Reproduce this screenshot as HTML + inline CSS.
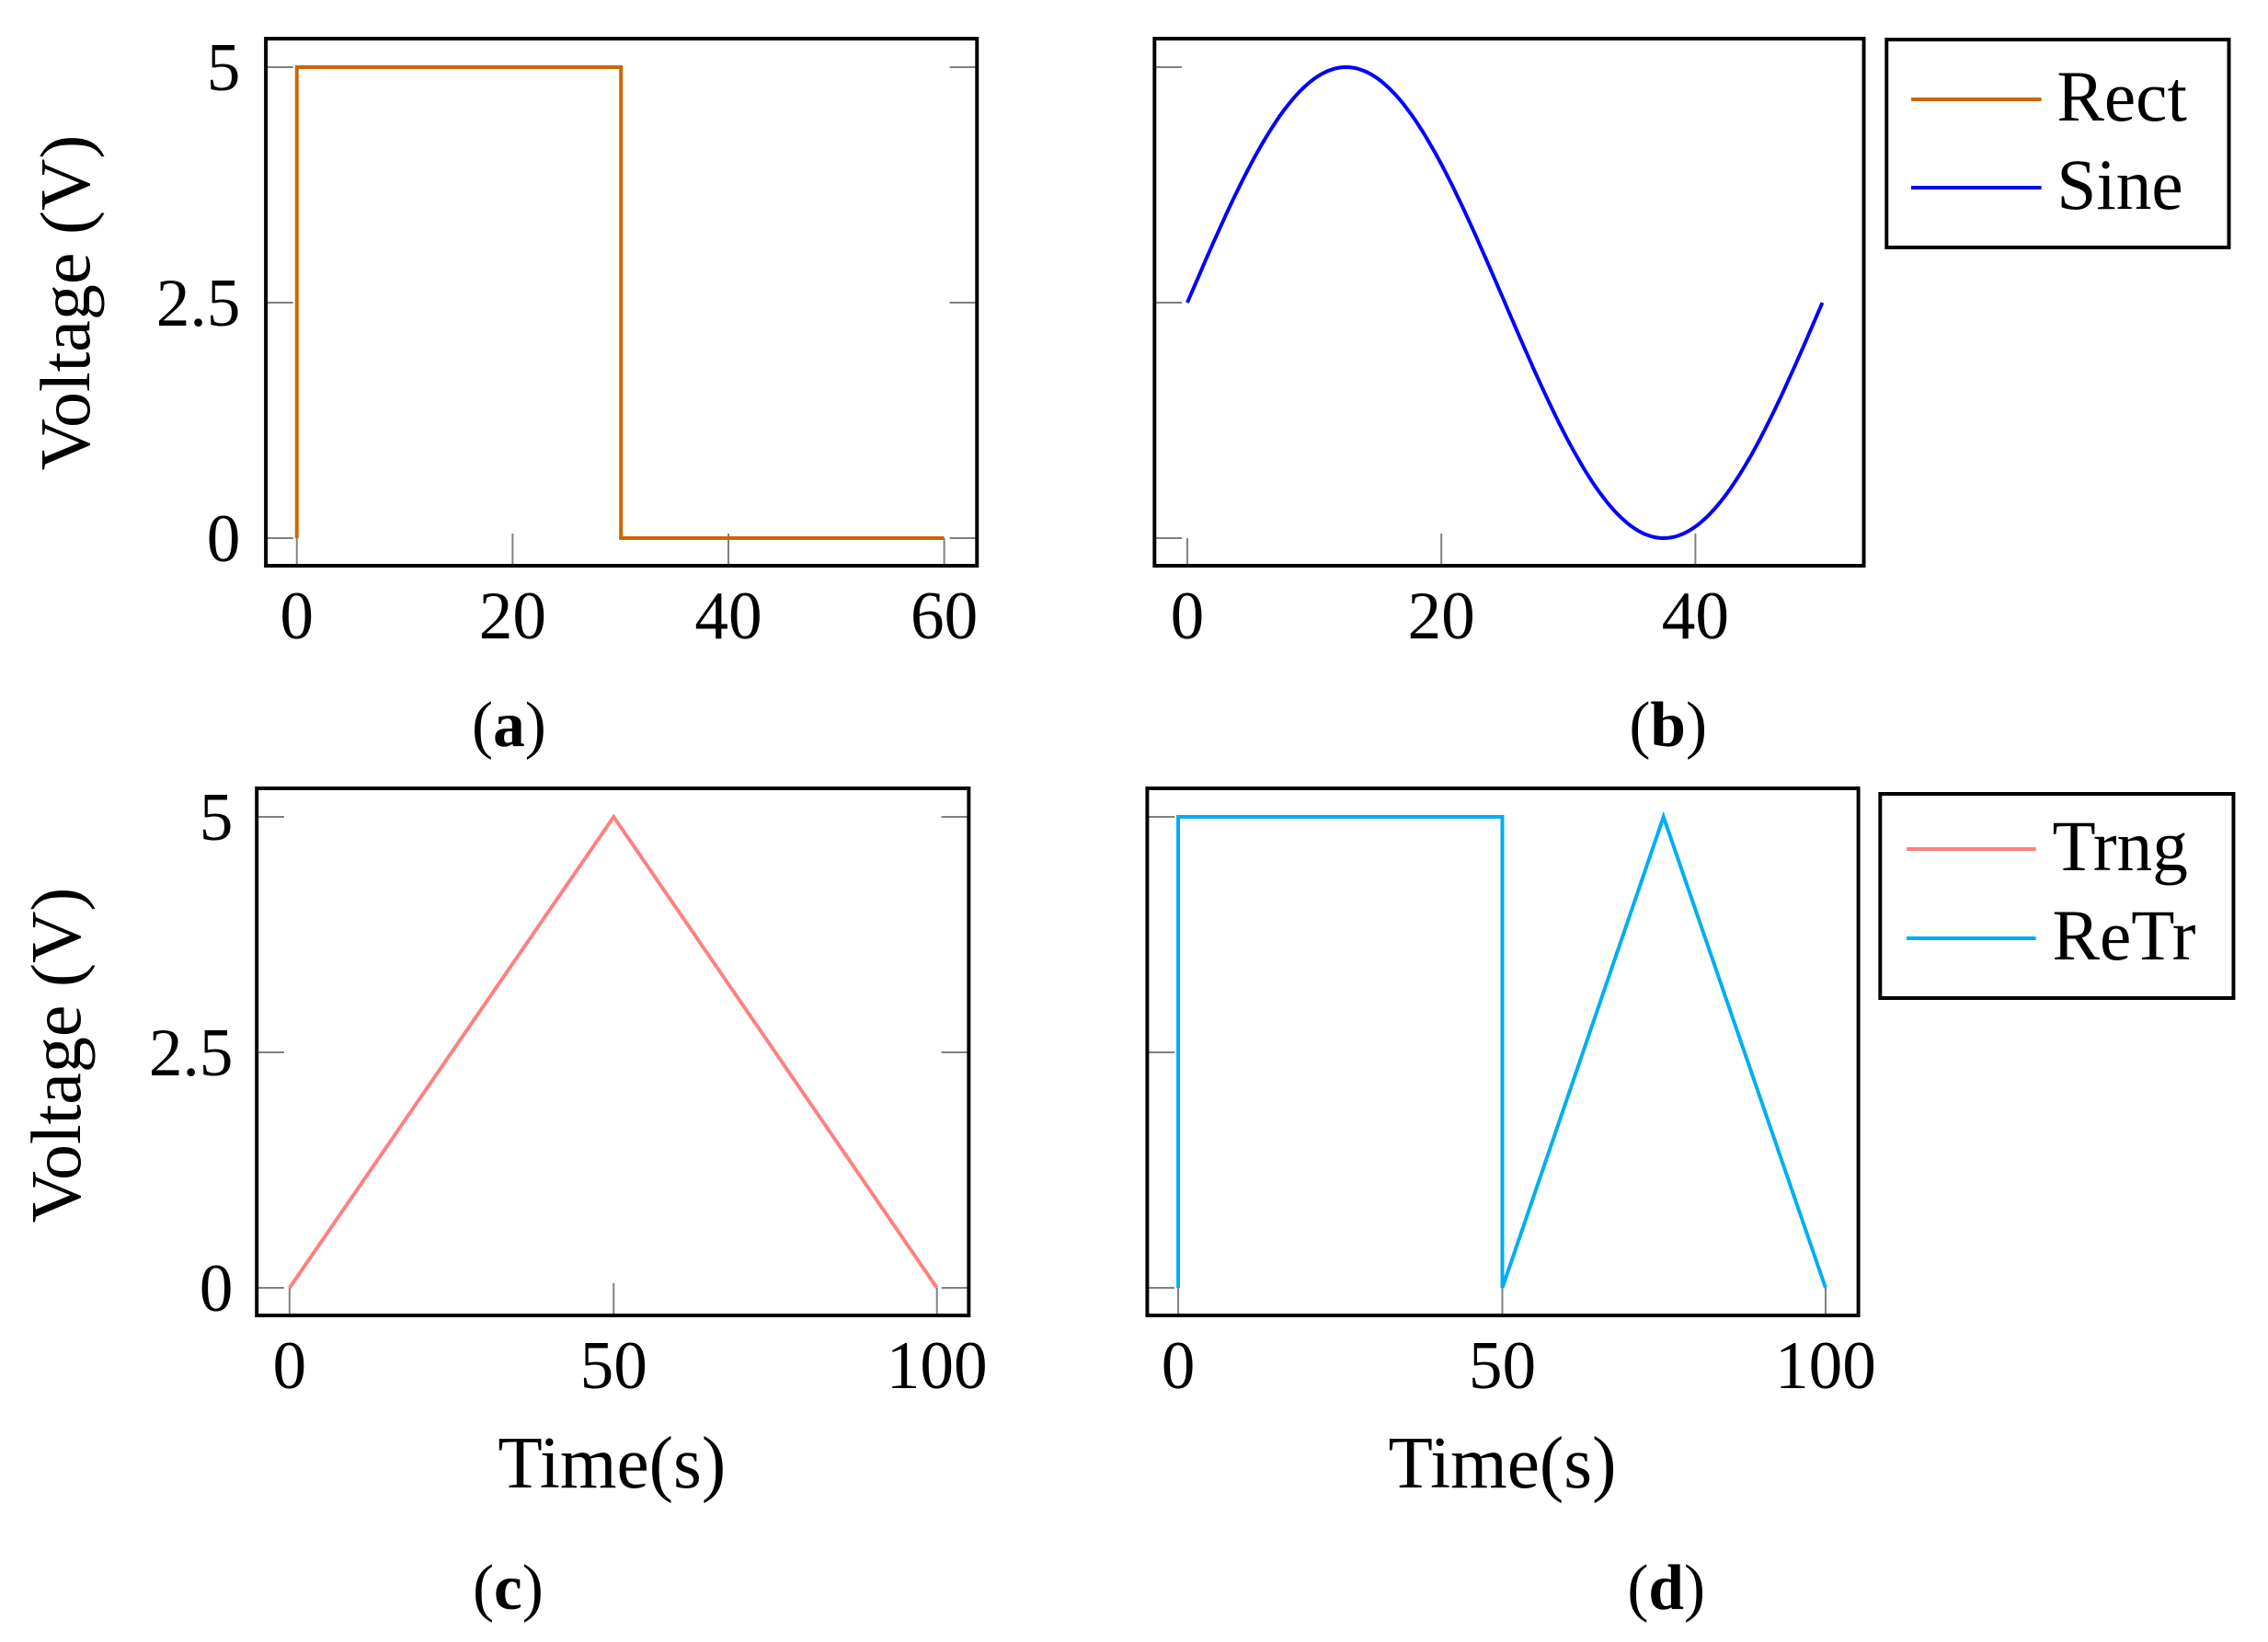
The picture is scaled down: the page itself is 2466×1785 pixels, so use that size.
<!DOCTYPE html>
<html><head><meta charset="utf-8"><style>
html,body{margin:0;padding:0;background:#fff;}
svg{display:block;}
text{font-family:"Liberation Serif",serif;fill:#000;}
</style></head><body>
<svg width="2466" height="1785" viewBox="0 0 2466 1785" xmlns="http://www.w3.org/2000/svg">
<g font-size="74" transform="scale(0.99,1)">
<!-- Panel a -->
<g stroke="#808080" stroke-width="2">
<line x1="292" y1="73" x2="322" y2="73"/><line x1="292" y1="329" x2="322" y2="329"/><line x1="292" y1="585" x2="322" y2="585"/>
<line x1="1043" y1="73" x2="1073" y2="73"/><line x1="1043" y1="329" x2="1073" y2="329"/><line x1="1043" y1="585" x2="1073" y2="585"/>
<line x1="326" y1="615" x2="326" y2="585"/><line x1="563" y1="615" x2="563" y2="580"/><line x1="800" y1="615" x2="800" y2="580"/><line x1="1037" y1="615" x2="1037" y2="585"/>
</g>
<polyline points="326,585 326,73 682,73 682,585 1037,585" fill="none" stroke="#CC6600" stroke-width="4"/>
<rect x="292" y="42" width="781" height="573" fill="none" stroke="#000" stroke-width="4"/>
<g text-anchor="end"><text x="264" y="98">5</text><text x="264" y="354">2.5</text><text x="264" y="610">0</text></g>
<g text-anchor="middle"><text x="326" y="694">0</text><text x="563" y="694">20</text><text x="800" y="694">40</text><text x="1037" y="694">60</text></g>
<text transform="translate(98,329) rotate(-90)" text-anchor="middle" font-size="78">Voltage (V)</text>
<text x="559" y="811" text-anchor="middle" font-size="70">(<tspan font-weight="bold">a</tspan>)</text>

<!-- Panel c -->
<g stroke="#808080" stroke-width="2">
<line x1="282" y1="888" x2="312" y2="888"/><line x1="282" y1="1144" x2="312" y2="1144"/><line x1="282" y1="1400" x2="312" y2="1400"/>
<line x1="1034" y1="888" x2="1064" y2="888"/><line x1="1034" y1="1144" x2="1064" y2="1144"/><line x1="1034" y1="1400" x2="1064" y2="1400"/>
<line x1="318" y1="1430" x2="318" y2="1400"/><line x1="674" y1="1430" x2="674" y2="1395"/><line x1="1029" y1="1430" x2="1029" y2="1400"/>
</g>
<polyline points="318,1400 674,888 1029,1400" fill="none" stroke="#FF8080" stroke-width="4"/>
<rect x="282" y="857" width="782" height="573" fill="none" stroke="#000" stroke-width="4"/>
<g text-anchor="end"><text x="256" y="913">5</text><text x="256" y="1169">2.5</text><text x="256" y="1425">0</text></g>
<g text-anchor="middle"><text x="318" y="1509">0</text><text x="674" y="1509">50</text><text x="1029" y="1509">100</text></g>
<text transform="translate(88,1147) rotate(-90)" text-anchor="middle" font-size="78">Voltage (V)</text>
<text x="672" y="1617" text-anchor="middle" font-size="80">Time(s)</text>
<text x="558" y="1749" text-anchor="middle" font-size="70">(<tspan font-weight="bold">c</tspan>)</text>

<g transform="translate(11,0)">
<!-- Panel b -->
<g stroke="#808080" stroke-width="2">
<line x1="1257" y1="73" x2="1287" y2="73"/><line x1="1257" y1="329" x2="1287" y2="329"/><line x1="1257" y1="585" x2="1287" y2="585"/>
<line x1="1293" y1="615" x2="1293" y2="585"/><line x1="1572" y1="615" x2="1572" y2="580"/><line x1="1851" y1="615" x2="1851" y2="580"/>
</g>
<path id="sine" fill="none" stroke="#0000FF" stroke-width="4" d=""/>
<rect x="1257" y="42" width="779" height="573" fill="none" stroke="#000" stroke-width="4"/>
<g text-anchor="middle"><text x="1293" y="694">0</text><text x="1572" y="694">20</text><text x="1851" y="694">40</text></g>
<text x="1821" y="811" text-anchor="middle" font-size="70">(<tspan font-weight="bold">b</tspan>)</text>
<rect x="2061" y="43" width="376" height="226" fill="#fff" stroke="#000" stroke-width="4"/>
<line x1="2088" y1="108" x2="2231" y2="108" stroke="#CC6600" stroke-width="4"/>
<line x1="2088" y1="204" x2="2231" y2="204" stroke="#0000FF" stroke-width="4"/>
<text x="2248" y="131" font-size="78">Rect</text><text x="2248" y="227" font-size="78">Sine</text>

<!-- Panel d -->
<g stroke="#808080" stroke-width="2">
<line x1="1249" y1="888" x2="1279" y2="888"/><line x1="1249" y1="1144" x2="1279" y2="1144"/><line x1="1249" y1="1400" x2="1279" y2="1400"/>
<line x1="1283" y1="1430" x2="1283" y2="1400"/><line x1="1639" y1="1430" x2="1639" y2="1395"/><line x1="1994" y1="1430" x2="1994" y2="1400"/>
</g>
<polyline points="1283,1400 1283,888 1639,888 1639,1400 1816,888 1994,1400" fill="none" stroke="#00AEEF" stroke-width="4"/>
<rect x="1249" y="857" width="781" height="573" fill="none" stroke="#000" stroke-width="4"/>
<g text-anchor="middle"><text x="1283" y="1509">0</text><text x="1639" y="1509">50</text><text x="1994" y="1509">100</text></g>
<text x="1639" y="1617" text-anchor="middle" font-size="80">Time(s)</text>
<text x="1819" y="1749" text-anchor="middle" font-size="70">(<tspan font-weight="bold">d</tspan>)</text>
<rect x="2054" y="863" width="388" height="222" fill="#fff" stroke="#000" stroke-width="4"/>
<line x1="2083" y1="923" x2="2225" y2="923" stroke="#FF8080" stroke-width="4"/>
<line x1="2083" y1="1020" x2="2225" y2="1020" stroke="#00AEEF" stroke-width="4"/>
<text x="2243" y="946" font-size="78">Trng</text><text x="2243" y="1043" font-size="78">ReTr</text>
</g>
</g>
</svg>
<script>
(function(){var d="";for(var i=0;i<=200;i++){var t=i/200*50;var x=1293+t*(1851-1293)/40;var y=329-256*Math.sin(2*Math.PI*t/50);d+=(i?"L":"M")+x.toFixed(1)+","+y.toFixed(1);}document.getElementById("sine").setAttribute("d",d);})();
</script>
</body></html>
